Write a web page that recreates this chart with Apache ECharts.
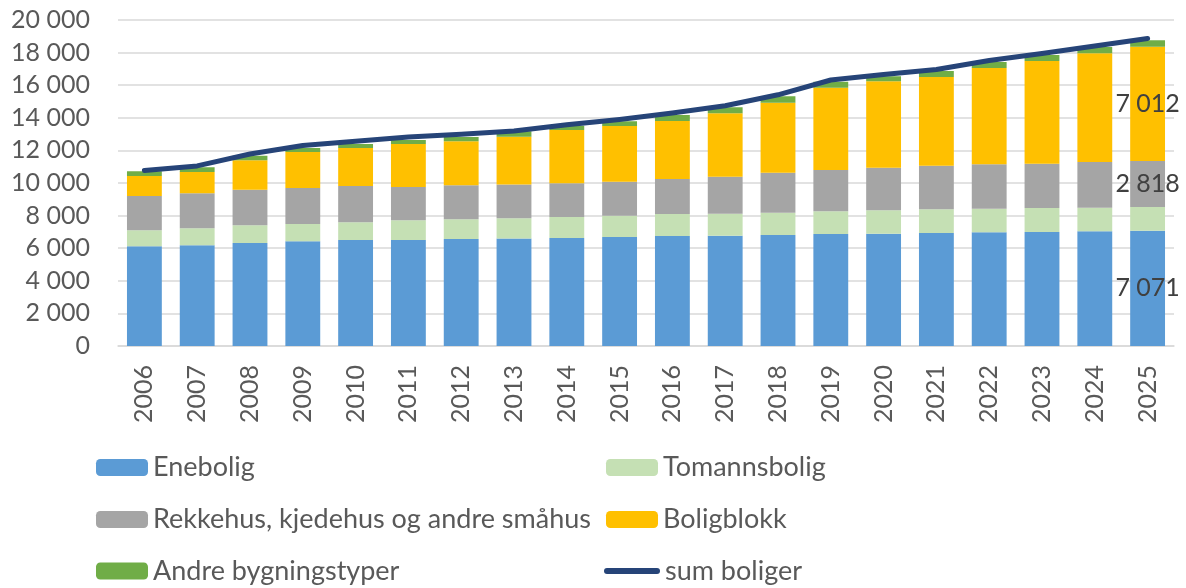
<!DOCTYPE html>
<html>
<head>
<meta charset="utf-8">
<script src="https://cdn.jsdelivr.net/npm/echarts@6/dist/echarts.min.js"></script>
<style>
  html, body { margin: 0; padding: 0; background: #fff; }
  #chart { width: 1186px; height: 588px; }
</style>
</head>
<body>
<div id="chart"></div>
<script>
// data
var years = ['2006', '2007', '2008', '2009', '2010', '2011', '2012', '2013', '2014', '2015',
             '2016', '2017', '2018', '2019', '2020', '2021', '2022', '2023', '2024', '2025'];
var enebolig = [6115, 6176, 6319, 6421, 6503, 6503, 6564, 6595, 6626, 6687,
                6748, 6769, 6810, 6871, 6880, 6933, 6973, 6994, 7035, 7071];
var tomannsbolig = [980, 1043, 1084, 1064, 1084, 1207, 1207, 1247, 1288, 1309,
                    1350, 1350, 1370, 1391, 1452, 1451, 1452, 1472, 1452, 1460];
var rekkehus = [2106, 2147, 2188, 2208, 2229, 2045, 2086, 2066, 2066, 2086,
                2147, 2270, 2454, 2536, 2597, 2679, 2720, 2720, 2801, 2818];
var boligblokk = [1227, 1309, 1800, 2209, 2331, 2638, 2699, 2924, 3272, 3415,
                  3559, 3885, 4294, 5051, 5317, 5440, 5910, 6299, 6667, 7012];
var andre = [287, 286, 286, 245, 246, 245, 266, 348, 265, 286,
             368, 368, 389, 368, 307, 368, 368, 368, 389, 400];
var sumBoliger = [10760, 11050, 11780, 12300, 12560, 12820, 12990, 13190, 13580, 13900,
                  14290, 14740, 15410, 16320, 16650, 16960, 17510, 17950, 18410, 18870];

function fmt(v) {
    return String(Math.round(v)).replace(/\B(?=(\d{3})+(?!\d))/g, ' ');
}

var myChart = echarts.init(document.getElementById('chart'));

var txt = '#595959';
var fontFamily = 'Lato';
var axisFont = 25;
var legendFont = 27;

// label only on the last bar
function lastLabel() {
    return {
        show: true,
        position: 'inside',
        color: '#404040',
        fontSize: 25,
        fontFamily: fontFamily,
        formatter: function (p) {
            return p.dataIndex === years.length - 1 ? fmt(p.value) : '';
        }
    };
}

function barSeries(name, data, color, withLabel) {
    return {
        name: name,
        type: 'bar',
        stack: 'total',
        barCategoryGap: '34%',
        data: data,
        itemStyle: { color: color },
        label: withLabel ? lastLabel() : { show: false },
        emphasis: { disabled: true }
    };
}

var lineIcon = 'path://M3,0 L53,0 A3,3 0 0 1 53,6 L3,6 A3,3 0 0 1 3,0 Z';

var legendPos = [
    { name: 'Enebolig', left: 96, y: 467.5 },
    { name: 'Tomannsbolig', left: 606, y: 467.5 },
    { name: 'Rekkehus, kjedehus og andre småhus', left: 96, y: 519.5 },
    { name: 'Boligblokk', left: 606, y: 519.5 },
    { name: 'Andre bygningstyper', left: 96, y: 571 },
    { name: 'sum boliger', left: 604, y: 571, line: true }
];

var option = {
    backgroundColor: '#fff',
    animation: false,
    textStyle: { fontFamily: fontFamily },
    grid: { left: 118, right: 12, top: 20, bottom: 242 },
    legend: legendPos.map(function (l) {
        return {
            data: [l.line ? { name: l.name, icon: lineIcon } : l.name],
            left: l.left,
            top: l.y - legendFont / 2,
            padding: 0,
            itemWidth: l.line ? 56 : 52,
            itemHeight: l.line ? 6 : 17,
            itemGap: 0,
            textStyle: { color: txt, fontSize: legendFont, fontFamily: fontFamily }
        };
    }),
    xAxis: {
        type: 'category',
        data: years,
        axisLine: { show: true, lineStyle: { color: '#d9d9d9', width: 1.5 } },
        axisTick: { show: false },
        axisLabel: { rotate: 90, color: txt, fontSize: axisFont, margin: 19, fontFamily: fontFamily }
    },
    yAxis: {
        type: 'value',
        min: 0,
        max: 20000,
        interval: 2000,
        axisLine: { show: false },
        axisTick: { show: false },
        splitLine: { lineStyle: { color: '#d9d9d9', width: 1.5 } },
        axisLabel: {
            color: txt, fontSize: axisFont, margin: 28, fontFamily: fontFamily,
            formatter: function (v) { return fmt(v); }
        }
    },
    series: [
        barSeries('Enebolig', enebolig, '#5B9BD5', true),
        barSeries('Tomannsbolig', tomannsbolig, '#C5E0B4', false),
        barSeries('Rekkehus, kjedehus og andre småhus', rekkehus, '#A5A5A5', true),
        barSeries('Boligblokk', boligblokk, '#FFC000', true),
        barSeries('Andre bygningstyper', andre, '#70AD47', false),
        {
            name: 'sum boliger',
            type: 'line',
            data: sumBoliger,
            symbol: 'none',
            lineStyle: { color: '#264478', width: 5, cap: 'round', join: 'round' },
            itemStyle: { color: '#264478' },
            emphasis: { disabled: true },
            z: 5
        }
    ]
};

myChart.setOption(option);
</script>
</body>
</html>
